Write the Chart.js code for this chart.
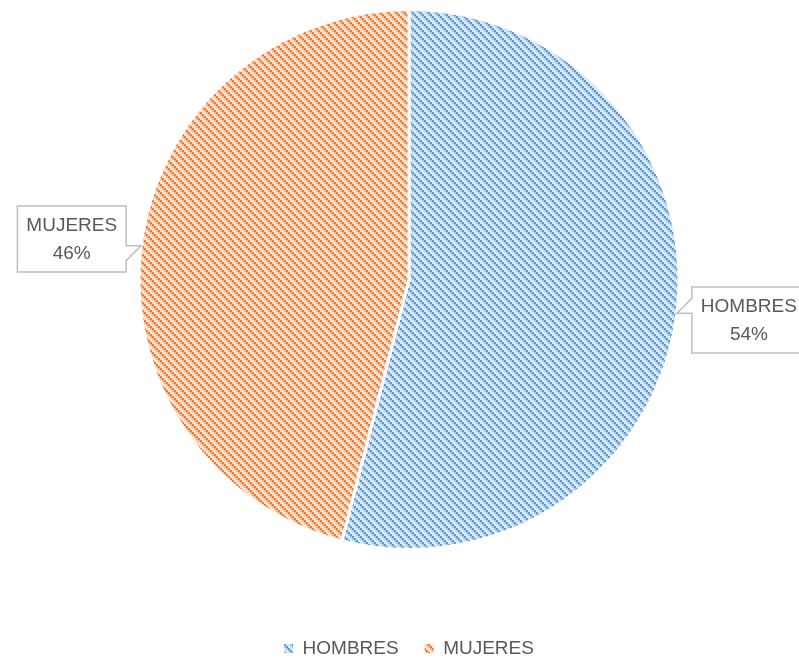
<!DOCTYPE html>
<html>
<head>
<meta charset="utf-8">
<script src="https://cdn.jsdelivr.net/npm/chart.js@4"></script>
<style>
  html, body { margin: 0; padding: 0; background: #fff; }
</style>
</head>
<body>
<canvas id="pieChart" width="799" height="662"></canvas>
<script>
const labels = ['HOMBRES', 'MUJERES'];
const values = [54, 46];
const stripeColors = ['#5b9bd5', '#ed7d31'];
const midColors = ['#a3c6e9', '#f4b387'];
const baseColors = ['#dae8f6', '#fbe2d2'];

const FONT = "'Liberation Sans', Arial, sans-serif";
const TEXT_COLOR = '#595959';

// 8x8 tile, stair-stepped downward diagonal (like the office "wide diagonal" fill)
function makeHatch(dark, mid, light) {
    const tile = document.createElement('canvas');
    tile.width = 8;
    tile.height = 8;
    const t = tile.getContext('2d');
    for (let by = 0; by < 4; by++) {
        for (let bx = 0; bx < 4; bx++) {
            const d = ((bx - by) % 4 + 4) % 4;
            t.fillStyle = d === 0 ? dark : (d === 3 ? mid : light);
            t.fillRect(bx * 2, by * 2, 2, 2);
        }
    }
    return t.createPattern(tile, 'repeat');
}

const patterns = labels.map((_, i) => makeHatch(stripeColors[i], midColors[i], baseColors[i]));

// Callout boxes (label + percentage) pointing at each slice
const calloutPlugin = {
    id: 'callouts',
    afterDatasetsDraw(chart) {
        const ctx = chart.ctx;
        const meta = chart.getDatasetMeta(0);
        const total = values.reduce((a, b) => a + b, 0);
        ctx.save();
        ctx.font = '19px ' + FONT;
        meta.data.forEach((arc, i) => {
            const p = arc.getProps(['x', 'y', 'startAngle', 'endAngle', 'outerRadius'], true);
            const mid = (p.startAngle + p.endAngle) / 2;
            const tipX = p.x + Math.cos(mid) * p.outerRadius;
            const tipY = p.y + Math.sin(mid) * p.outerRadius;
            const onRight = Math.cos(mid) >= 0;
            const pct = Math.round(values[i] / total * 100) + '%';
            const w = Math.max(ctx.measureText(labels[i]).width, ctx.measureText(pct).width) + 18;
            const h = 66;
            const cy = tipY + (tipY - p.y) * 0.2;
            const top = cy - h / 2;
            const edge = onRight ? tipX + 15 : tipX - 15;
            const left = onRight ? edge : edge - w;
            const other = tipY + (tipY < p.y ? 15 : -15);
            const yLo = Math.max(tipY, other);
            const yHi = Math.min(tipY, other);

            ctx.beginPath();
            if (onRight) {
                ctx.moveTo(left, top);
                ctx.lineTo(left + w, top);
                ctx.lineTo(left + w, top + h);
                ctx.lineTo(left, top + h);
                ctx.lineTo(left, yLo);
                ctx.lineTo(tipX, tipY);
                ctx.lineTo(left, yHi);
            } else {
                ctx.moveTo(left + w, top);
                ctx.lineTo(left, top);
                ctx.lineTo(left, top + h);
                ctx.lineTo(left + w, top + h);
                ctx.lineTo(left + w, yLo);
                ctx.lineTo(tipX, tipY);
                ctx.lineTo(left + w, yHi);
            }
            ctx.closePath();
            ctx.fillStyle = '#ffffff';
            ctx.fill();
            ctx.strokeStyle = '#bfbfbf';
            ctx.lineWidth = 1.5;
            ctx.stroke();

            ctx.fillStyle = TEXT_COLOR;
            ctx.textAlign = 'center';
            ctx.textBaseline = 'middle';
            ctx.fillText(labels[i], left + w / 2, cy - 13);
            ctx.fillText(pct, left + w / 2, cy + 15);
        });
        ctx.restore();
    }
};

const ctx = document.getElementById('pieChart').getContext('2d');
const pieChart = new Chart(ctx, {
    type: 'pie',
    data: {
        labels: labels,
        datasets: [{
            data: values,
            backgroundColor: patterns,
            borderColor: '#ffffff',
            borderWidth: 3,
            hoverOffset: 0
        }]
    },
    options: {
        responsive: false,
        animation: false,
        radius: 270,
        layout: {
            padding: { left: 19, right: 0, top: 0, bottom: -6 }
        },
        plugins: {
            tooltip: { enabled: false },
            subtitle: {
                display: true,
                text: '',
                position: 'bottom',
                weight: 500,
                font: { size: 10, lineHeight: 1 },
                padding: { top: 44, bottom: 0 }
            },
            legend: {
                position: 'bottom',
                labels: {
                    usePointStyle: true,
                    pointStyle: 'rect',
                    boxWidth: 9,
                    boxHeight: 9,
                    padding: 26,
                    color: TEXT_COLOR,
                    font: { family: FONT, size: 19 },
                    generateLabels(chart) {
                        const items = Chart.overrides.pie.plugins.legend.labels.generateLabels(chart);
                        items.forEach(item => {
                            item.lineWidth = 0;
                            item.strokeStyle = 'rgba(0,0,0,0)';
                        });
                        return items;
                    }
                }
            }
        }
    },
    plugins: [calloutPlugin]
});
</script>
</body>
</html>
